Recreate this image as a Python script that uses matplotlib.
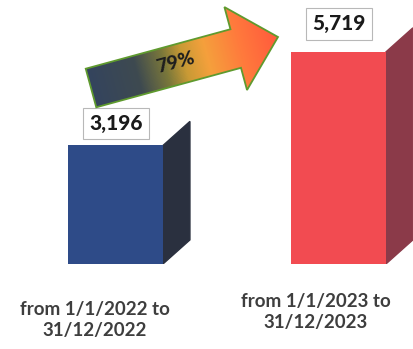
import numpy as np
import matplotlib.pyplot as plt
from matplotlib.patches import Polygon
from matplotlib.colors import LinearSegmentedColormap

periods = ["from 1/1/2022 to\n31/12/2022", "from 1/1/2023 to\n31/12/2023"]
totals = [3196, 5719]
growth_label = "79%"

front_colors = ["#2e4b88", "#f24b51"]
side_colors = ["#2a303f", "#8b3a49"]

plt.rcParams["font.family"] = ["Lato", "DejaVu Sans"]

fig = plt.figure(figsize=(4.14, 3.49), dpi=100)
ax = fig.add_axes([0, 0.2436, 1, 0.7564])
ax.set_xlim(-0.518, 1.339)
ax.set_ylim(0, 7120)
ax.axis("off")

x = np.arange(len(totals))
width = 0.426
bars = ax.bar(x, totals, width=width, color=front_colors, zorder=3)

# fake 3d: dark side face to the right of each bar
depth_x, depth_y = 0.121, 650
for bar, side in zip(bars, side_colors):
    right = bar.get_x() + bar.get_width()
    top = bar.get_height()
    ax.add_patch(Polygon([(right, 0), (right + depth_x, depth_y),
                          (right + depth_x, top + depth_y), (right, top)],
                         closed=True, color=side, zorder=2))

# value boxes above bars
label_offsets = [22, 28]
for xi, val, off in zip(x, totals, label_offsets):
    ax.annotate(f"{val:,}", xy=(xi, val), xytext=(1, off), textcoords="offset pixels",
                ha="center", va="center", fontsize=15, fontweight="black", color="#1a1a1a",
                zorder=5,
                bbox=dict(boxstyle="square,pad=0.3", fc="white", ec="#b8b8b8", lw=0.8))

# period labels under bars
cat_offsets = [(-21, -56), (-23, -48)]
for xi, lab, (dx, dy) in zip(x, periods, cat_offsets):
    ax.annotate(lab, xy=(xi, 0), xytext=(dx, dy), textcoords="offset pixels",
                ha="center", va="center", fontsize=13.5, fontweight="bold",
                color="#3e3e3e", linespacing=1.3)

# growth arrow with gradient fill
ov = fig.add_axes([0, 0, 1, 1], zorder=4)
ov.set_xlim(0, 414)
ov.set_ylim(349, 0)
ov.axis("off")

tail = np.array([91.0, 88.0])
tip = np.array([278.0, 37.0])
length = np.hypot(*(tip - tail))
d = (tip - tail) / length
n = np.array([-d[1], d[0]])
shaft_w, head_w, head_start = 20, 43, 150
local = [(0, -shaft_w), (head_start, -shaft_w), (head_start, -head_w), (length, 0),
         (head_start, head_w), (head_start, shaft_w), (0, shaft_w)]
pts = [tail + u * d + v * n for u, v in local]

cmap = LinearSegmentedColormap.from_list(
    "growth", [(0.0, "#34445e"), (0.25, "#3e4a50"), (0.4, "#7b783a"),
               (0.5, "#c99a35"), (0.62, "#f5a03c"), (0.8, "#ff7a3c"), (1.0, "#ff5a3d")])
gx, gy = np.meshgrid(np.arange(414) + 0.5, np.arange(349) + 0.5)
u = ((gx - tail[0]) * d[0] + (gy - tail[1]) * d[1]) / length
img = ov.imshow(np.clip(u, 0, 1), cmap=cmap, extent=(0, 414, 349, 0),
                interpolation="bilinear", vmin=0, vmax=1)
arrow = Polygon(pts, closed=True, fc="none", ec="#5f9a2e", lw=1.3)
ov.add_patch(arrow)
img.set_clip_path(arrow)

ov.text(176, 63, growth_label, rotation=15, ha="center", va="center",
        fontsize=14, fontweight="black", color="#1e1e1e")

fig.savefig("out.png", dpi=100)
